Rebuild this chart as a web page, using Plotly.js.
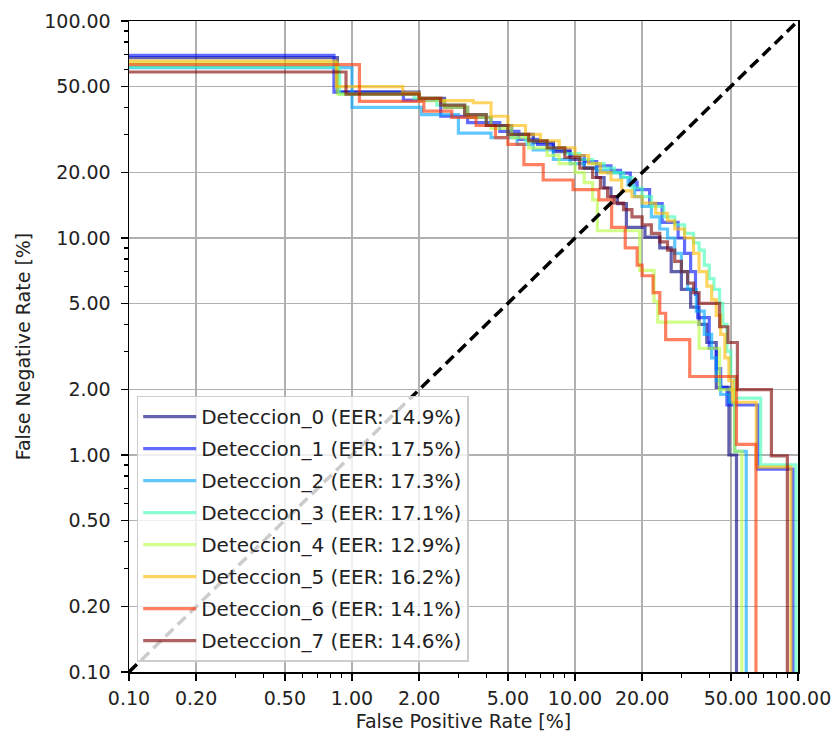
<!DOCTYPE html>
<html>
<head>
<meta charset="utf-8">
<script src="https://cdn.plot.ly/plotly-3.0.1.min.js"></script>
<style>html,body{margin:0;padding:0;background:#fff;}#chart{width:832px;height:735px;}</style>
</head>
<body>
<div id="chart"></div>
<script>
// Series names and EER labels
const seriesNames = ["Deteccion_0","Deteccion_1","Deteccion_2","Deteccion_3","Deteccion_4","Deteccion_5","Deteccion_6","Deteccion_7"];
const eerValues = ["14.9","17.5","17.3","17.1","12.9","16.2","14.1","14.6"];

// False positive rate [%] / false negative rate [%] per detector (step points)
const det0_fpr = [0.05, 0.86, 2.0, 2.6, 3.3, 4.2, 5.2, 6.5, 8, 9.5, 11, 12.5, 13.5, 14.5, 15.5, 17, 20.6, 24, 27, 30, 33, 36, 39, 43, 49, 53];
const det0_fnr = [67.8, 47, 44, 40, 36, 33, 30, 27.5, 25, 23, 21, 19, 17, 15.5, 14.4, 11.2, 10.1, 9.0, 7.0, 5.8, 4.8, 4.0, 3.3, 2.05, 1.0, 0.001];

const det1_fpr = [0.05, 0.83, 1.7, 2.5, 3.3, 4.6, 5.6, 6.8, 8, 9.5, 11, 12.5, 14.5, 16, 17.7, 19, 21.6, 24.6, 29, 31, 33, 34.7, 35.5, 40, 43, 45, 48, 66, 95];
const det1_fnr = [69.5, 47, 43.2, 36.4, 34, 31, 28.5, 27, 25.5, 24, 22.5, 21.5, 20.5, 19.9, 18.1, 16.7, 14.4, 11.8, 10, 8.5, 7.0, 5.5, 4.3, 3.1, 2.5, 2.05, 1.7, 0.86, 0.001];

const det2_fpr = [0.05, 1.0, 2.05, 3.0, 4.2, 5.5, 6.5, 8, 9.5, 11, 12.5, 14, 16, 17.3, 18.5, 20, 22, 24, 26, 28, 30, 32, 35, 38, 41, 43, 45, 49, 52, 58.6];
const det2_fnr = [61.0, 40, 37, 30.4, 29, 27, 25.5, 23, 22, 21, 20.5, 20, 19, 17.5, 15.5, 14, 12.5, 11, 10, 8.5, 7, 5.8, 4.6, 3.6, 2.8, 2.2, 1.9, 1.75, 1.04, 0.001];

const det3_fpr = [0.05, 0.88, 1.9, 2.4, 3.2, 4, 5, 6, 7.5, 9, 10.5, 12, 13.5, 15, 16.5, 18, 20, 22, 25, 28, 31, 34, 36, 38, 40, 42, 44.5, 46, 48, 50, 52, 68, 98];
const det3_fnr = [61.4, 46, 44, 41, 37, 33, 30, 28, 26, 24.5, 23, 22, 21, 20, 19, 17, 15.5, 14, 12.5, 11.5, 10.5, 9.5, 8.8, 7.5, 6.5, 5.8, 5.0, 4.0, 3.0, 2.3, 1.83, 0.9, 0.001];

const det4_fpr = [0.05, 0.86, 2.0, 2.6, 3.3, 4.2, 5.2, 6.2, 7.5, 8.5, 10, 11, 12, 12.6, 19.5, 22.6, 23.5, 36, 44.5, 52, 56];
const det4_fnr = [63.9, 46, 43, 40, 36, 32, 29, 26, 24, 22, 20, 18, 15, 10.8, 7.1, 5.1, 4.1, 3.1, 2.0, 1.04, 0.001];

const det5_fpr = [0.05, 0.85, 1.69, 2.0, 2.5, 3.5, 4.2, 5, 6, 7, 8.5, 10, 11.5, 13, 14.5, 16.2, 18, 20, 23, 26, 28, 31, 34, 36, 39, 41, 43, 45, 47, 49, 51, 65, 93];
const det5_fnr = [65.4, 49.8, 46.5, 44, 43, 42, 36.4, 33, 30, 28, 26, 24, 22, 20, 18.5, 16.5, 15.5, 14.5, 13, 12, 11, 10, 8.5, 7.0, 6.0, 5.2, 4.4, 3.6, 2.8, 2.2, 1.75, 0.88, 0.001];

const det6_fpr = [0.05, 1.08, 2.1, 2.8, 3.6, 4.4, 5.0, 5.9, 7.2, 9.8, 12.8, 14.6, 16.8, 19, 20, 22.4, 24, 25.5, 32.7, 53, 64.8];
const det6_fnr = [63.0, 42.6, 38.4, 36, 33, 29, 27, 21.8, 18.5, 16.7, 15, 11.2, 9.0, 7.5, 6.7, 5.6, 4.5, 3.4, 2.3, 1.12, 0.001];

const det7_fpr = [0.05, 0.94, 2.0, 2.5, 3.2, 4.0, 5.0, 6.2, 7.5, 9.0, 10.5, 12.0, 13.0, 14.0, 15.0, 16.5, 18.0, 20.0, 22.0, 24.0, 26.0, 28.0, 30.0, 32.0, 34.0, 36.0, 44.5, 48.5, 53.5, 76, 89.6];
const det7_fnr = [58.2, 46, 44, 41, 37, 33, 30, 28, 26, 23.5, 21, 19, 17, 15.5, 14.5, 13.5, 12.5, 11.5, 10.5, 9.6, 8.8, 7.8, 7.0, 6.2, 5.6, 5.0, 3.9, 3.3, 2.0, 0.99, 0.001];

// Axis ticks
const tickValues = [0.1, 0.2, 0.5, 1, 2, 5, 10, 20, 50, 100];
const tickLabels = ["0.10", "0.20", "0.50", "1.00", "2.00", "5.00", "10.00", "20.00", "50.00", "100.00"];
const minorTickValues = [0.3, 0.4, 0.6, 0.7, 0.8, 0.9, 3, 4, 6, 7, 8, 9, 30, 40, 60, 70, 80, 90];
const diagonal = [0.1, 100];

const colors = [
  "rgba(0,0,128,0.62)",
  "rgba(0,18,255,0.62)",
  "rgba(0,164,255,0.62)",
  "rgba(65,255,182,0.62)",
  "rgba(182,255,65,0.62)",
  "rgba(255,185,0,0.62)",
  "rgba(255,50,0,0.62)",
  "rgba(128,0,0,0.62)"
];

const fprs = [det0_fpr, det1_fpr, det2_fpr, det3_fpr, det4_fpr, det5_fpr, det6_fpr, det7_fpr];
const fnrs = [det0_fnr, det1_fnr, det2_fnr, det3_fnr, det4_fnr, det5_fnr, det6_fnr, det7_fnr];

const traces = seriesNames.map((n, i) => ({
  type: "scatter",
  mode: "lines",
  x: fprs[i],
  y: fnrs[i],
  name: n + " (EER: " + eerValues[i] + "%)",
  legendgroup: "g" + i,
  line: {color: colors[i], width: 3.2, shape: "hv"},
  hoverinfo: "skip"
}));

traces.push({
  type: "scatter", mode: "lines",
  x: diagonal, y: diagonal,
  showlegend: false,
  line: {color: "#000", width: 3.5, dash: "11px,6px"},
  hoverinfo: "skip"
});

const fontFam = "DejaVu Sans, sans-serif";
const axisBase = {
  type: "log",
  range: [-1, 2],
  tickmode: "array",
  tickvals: tickValues,
  ticktext: tickLabels,
  showgrid: true,
  gridcolor: "#b0b0b0",
  gridwidth: 1.5,
  showline: true,
  linecolor: "#000",
  linewidth: 1.5,
  mirror: true,
  ticks: "outside",
  ticklen: 7,
  tickwidth: 1.5,
  tickcolor: "#000",
  tickfont: {family: fontFam, size: 19, color: "#222"},
  minor: {tickmode: "array", tickvals: minorTickValues, ticks: "outside", ticklen: 4, tickwidth: 1.2, tickcolor: "#000", showgrid: false},
  zeroline: false,
  automargin: false
};

const layout = {
  width: 832, height: 735,
  margin: {l: 129, r: 34, t: 21, b: 63},
  paper_bgcolor: "#fff",
  plot_bgcolor: "#fff",
  showlegend: true,
  font: {family: fontFam, color: "#222"},
  xaxis: Object.assign({}, axisBase, {
    title: {text: "False Positive Rate [%]", font: {family: fontFam, size: 19, color: "#222"}, standoff: 6},
    ticklabelstandoff: 2
  }),
  yaxis: Object.assign({}, axisBase, {
    title: {text: "False Negative Rate [%]", font: {family: fontFam, size: 19, color: "#222"}, standoff: 8},
    ticklabelstandoff: 6
  }),
  legend: {
    x: 0.0115, y: 0.016, xanchor: "left", yanchor: "bottom",
    bgcolor: "rgba(255,255,255,0.8)",
    bordercolor: "#cccccc", borderwidth: 1.5,
    font: {family: fontFam, size: 20, color: "#222"},
    tracegroupgap: 3,
    itemwidth: 53
  }
};

Plotly.newPlot("chart", traces, layout, {staticPlot: true, displayModeBar: false});
</script>
</body>
</html>
